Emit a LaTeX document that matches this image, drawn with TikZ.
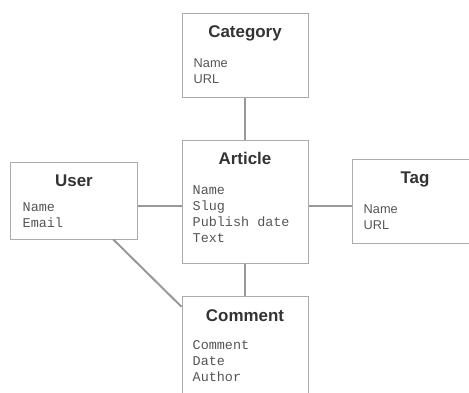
\documentclass[tikz,border=0pt]{standalone}
\usepackage{fontspec}
\setmainfont{Liberation Sans}
\setsansfont{Liberation Sans}
\setmonofont{Liberation Mono}
\usetikzlibrary{positioning}
\definecolor{boxgray}{HTML}{ABABAB}
\definecolor{linegray}{HTML}{999999}
\definecolor{titlegray}{HTML}{333333}
\definecolor{fieldgray}{HTML}{555555}
\tikzset{
  entity/.style={draw=boxgray, line width=1bp, minimum width=126bp, inner sep=0pt},
  title/.style={font=\fontsize{17}{20}\selectfont\bfseries, text=titlegray, anchor=base, inner sep=0pt},
  fields/.style={font=\fontsize{13.5}{16}\selectfont\ttfamily, text=fieldgray, align=left, anchor=base west, inner sep=0pt},
  sfields/.style={fields, font=\fontsize{12.8}{16}\selectfont\sffamily},
  link/.style={draw=linegray, line width=2bp}
}
\begin{document}
\begin{tikzpicture}[x=1bp,y=-1bp]
\useasboundingbox (0,0) rectangle (469,392);
\clip (0,0) rectangle (469,392);

% entity boxes
\node[entity, minimum height=84bp] (cat) at (245,55) {};
\node[entity, minimum height=123bp] (art) at (245,201.5) {};
\node[entity, minimum height=77bp] (user) at (74,200.5) {};
\node[entity, minimum height=84bp] (tag) at (415,201) {};
\node[entity, minimum height=124bp] (com) at (245,358) {};

% titles
\node[title] (cat-t) at ([yshift=-25bp]cat.north) {Category};
\node[title] (art-t) at ([yshift=-25bp]art.north) {Article};
\node[title] (user-t) at ([yshift=-25bp]user.north) {User};
\node[title] (tag-t) at ([yshift=-25bp]tag.north) {Tag};
\node[title] (com-t) at ([yshift=-26bp]com.north) {Comment};

% fields (base is the last line)
\node[sfields] (cat-f) at ([xshift=12bp,yshift=-71bp]cat.north west) {Name\\URL};
\node[fields] (art-f) at ([xshift=11bp,yshift=-103bp]art.north west) {Name\\Slug\\Publish date\\Text};
\node[fields] (user-f) at ([xshift=12bp,yshift=-66bp]user.north west) {Name\\Email};
\node[sfields] (tag-f) at ([xshift=12bp,yshift=-71bp]tag.north west) {Name\\URL};
\node[fields] (com-f) at ([xshift=11bp,yshift=-86bp]com.north west) {Comment\\Date\\Author};

% links
\draw[link] (cat.south) -- (art.north);
\draw[link] (art.south) -- (com.north);
\draw[link] ([yshift=-5.5bp]user.east) -- ([yshift=-5.5bp]user.east -| art.west);
\draw[link] ([yshift=-5bp]tag.west) -- ([yshift=-5bp]tag.west -| art.east);

\path (user.south west) -- (user.south east) coordinate[pos=0.81] (u1);
\path (com.north west) -- (com.south west) coordinate[pos=0.09] (c1);
\draw[link] (u1) -- (c1);
\end{tikzpicture}
\end{document}
